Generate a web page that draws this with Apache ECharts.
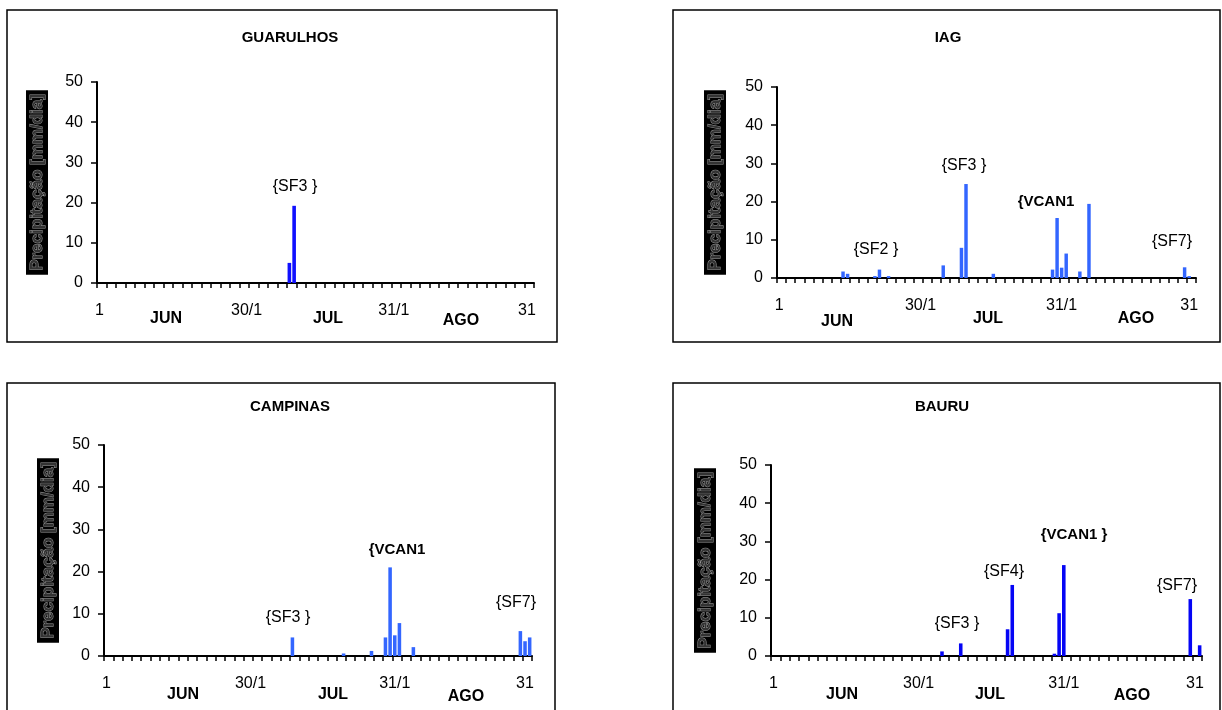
<!DOCTYPE html>
<html>
<head>
<meta charset="utf-8">
<script src="https://cdn.jsdelivr.net/npm/echarts@6/dist/echarts.min.js"></script>
<style>
html,body{margin:0;padding:0;background:#fff;}
#chart{width:1222px;height:710px;}
</style>
</head>
<body>
<div id="chart"></div>
<script>
// ---- categories: days of June (30), July (31), August (31)
const junDays = [1,2,3,4,5,6,7,8,9,10,11,12,13,14,15,16,17,18,19,20,21,22,23,24,25,26,27,28,29,30];
const julDays = [1,2,3,4,5,6,7,8,9,10,11,12,13,14,15,16,17,18,19,20,21,22,23,24,25,26,27,28,29,30,31];
const agoDays = [1,2,3,4,5,6,7,8,9,10,11,12,13,14,15,16,17,18,19,20,21,22,23,24,25,26,27,28,29,30,31];
const categories = [].concat(
  junDays.map(d => d + '/06'), julDays.map(d => d + '/07'), agoDays.map(d => d + '/08'));

// ---- tick labels
const dayTickIndex = [0, 31, 62, 90];
const dayTickText = ['1', '30/1', '31/1', '31'];
const monthLabels = ['JUN', 'JUL', 'AGO'];
const yTicks = [0, 10, 20, 30, 40, 50];
const yName = 'Precipitação [mm/dia]';
const titles = ['GUARULHOS', 'IAG', 'CAMPINAS', 'BAURU'];

// ---- daily precipitation (mm/dia), JUN (30) | JUL (31) | AGO (31)
const guarulhos = [
  0,0,0,0,0,0,0,0,0,0, 0,0,0,0,0,0,0,0,0,0, 0,0,0,0,0,0,0,0,0,0,
  0,0,0,0,0,0,0,0,0,0, 5,19.2,0,0,0,0,0,0,0,0, 0,0,0,0,0,0,0,0,0,0, 0,
  0,0,0,0,0,0,0,0,0,0, 0,0,0,0,0,0,0,0,0,0, 0,0,0,0,0,0,0,0,0,0, 0
];
const iag = [
  0,0,0,0,0,0,0,0,0,0, 0,0,0,0,1.7,1.1,0,0,0,0, 0,0.5,2.2,0,0.5,0,0,0,0,0,
  0,0,0,0,0,0,3.3,0,0,0, 7.9,24.6,0,0,0,0,0,1.1,0,0, 0,0,0,0,0,0,0,0,0,0, 2.2,
  15.7,2.7,6.4,0,0,1.7,0,19.4,0,0, 0,0,0,0,0,0,0,0,0,0, 0,0,0,0,0,0,0,0,2.8,0.5, 0
];
const campinas = [
  0,0,0,0,0,0,0,0,0,0, 0,0,0,0,0,0,0,0,0,0, 0,0,0,0,0,0,0,0,0,0,
  0,0,0,0,0,0,0,0,0,0, 4.4,0,0,0,0,0,0,0,0,0, 0,0.6,0,0,0,0,0,1.2,0,0, 4.4,
  21.0,4.9,7.8,0,0,2.1,0,0,0,0, 0,0,0,0,0,0,0,0,0,0, 0,0,0,0,0,0,0,0,5.9,3.5, 4.4
];
const bauru = [
  0,0,0,0,0,0,0,0,0,0, 0,0,0,0,0,0,0,0,0,0, 0,0,0,0,0,0,0,0,0,0,
  0,0,0,0,0,0,1.2,0,0,0, 3.3,0,0,0,0,0,0,0,0,0, 7.0,18.6,0,0,0,0,0,0,0,0, 0.6,
  11.2,23.8,0,0,0,0,0,0,0,0, 0,0,0,0,0,0,0,0,0,0, 0,0,0,0,0,0,0,0,14.9,0, 2.8
];
const stationValues = [guarulhos, iag, campinas, bauru];

// ---- layout (pixels)
const FONT = '"Liberation Sans", Arial, sans-serif';
const grids = [
  {left: 97,  top: 82,  width: 437, height: 201},
  {left: 777, top: 87,  width: 419, height: 191},
  {left: 104, top: 445, width: 428, height: 211},
  {left: 771, top: 465, width: 431, height: 191}
];
const boxes = [
  {x: 7,   y: 10,  width: 550, height: 332},
  {x: 673, y: 10,  width: 547, height: 332},
  {x: 7,   y: 383, width: 548, height: 400},
  {x: 673, y: 383, width: 547, height: 400}
];
const titlePos = [[290, 38], [948, 38], [290, 407], [942, 407]];
const nameGaps = [49, 51, 45, 55];
const barColors = ['#1010ff', '#3366ff', '#3366ff', '#0505f5'];
const monthPos = [
  [[166, 319], [328, 319], [461, 321]],
  [[837, 322], [988, 319], [1136, 319]],
  [[183, 695], [333, 695], [466, 697]],
  [[842, 695], [990, 695], [1132, 696]]
];
const notes = [
  [['{SF3 }', 295, 187, false]],
  [['{SF2 }', 876, 250, false], ['{SF3 }', 964, 166, false], ['{VCAN1', 1046, 202, true], ['{SF7}', 1172, 242, false]],
  [['{SF3 }', 288, 618, false], ['{VCAN1', 397, 550, true], ['{SF7}', 516, 603, false]],
  [['{SF3 }', 957, 624, false], ['{SF4}', 1004, 572, false], ['{VCAN1 }', 1074, 535, true], ['{SF7}', 1177, 586, false]]
];

const graphic = [];
boxes.forEach(b => graphic.push({
  type: 'rect', shape: b, silent: true,
  style: {fill: 'none', stroke: '#000', lineWidth: 1.5}
}));
titles.forEach((t, i) => graphic.push({
  type: 'text', silent: true,
  style: {text: t, x: titlePos[i][0], y: titlePos[i][1], align: 'center', verticalAlign: 'middle',
          fontFamily: FONT, fontSize: 15, fontWeight: 'bold', fill: '#000'}
}));
monthPos.forEach(p => p.forEach((pos, j) => graphic.push({
  type: 'text', silent: true,
  style: {text: monthLabels[j], x: pos[0], y: pos[1], align: 'center', verticalAlign: 'middle',
          fontFamily: FONT, fontSize: 16, fontWeight: 'bold', fill: '#000'}
})));
notes.forEach(list => list.forEach(n => graphic.push({
  type: 'text', silent: true,
  style: {text: n[0], x: n[1], y: n[2], align: 'center', verticalAlign: 'middle',
          fontFamily: FONT, fontSize: n[3] ? 15 : 16, fontWeight: n[3] ? 'bold' : 'normal', fill: '#000'}
})));

const option = {
  animation: false,
  backgroundColor: '#fff',
  graphic: graphic,
  grid: grids.map(g => Object.assign({containLabel: false}, g)),
  xAxis: grids.map((g, i) => ({
    type: 'category', gridIndex: i, data: categories, boundaryGap: true,
    axisLine: {show: true, lineStyle: {color: '#000', width: 2}},
    axisTick: {show: true, interval: 1, length: 5, lineStyle: {color: '#000', width: 1.5}},
    axisLabel: {
      show: true, margin: 20, color: '#000', fontFamily: FONT, fontSize: 16,
      interval: (idx) => dayTickIndex.indexOf(idx) >= 0,
      formatter: (v, idx) => { const k = dayTickIndex.indexOf(idx); return k >= 0 ? dayTickText[k] : ''; }
    },
    splitLine: {show: false}
  })),
  yAxis: grids.map((g, i) => ({
    type: 'value', gridIndex: i, min: yTicks[0], max: yTicks[yTicks.length - 1], interval: 10,
    axisLine: {show: true, lineStyle: {color: '#000', width: 2}},
    axisTick: {show: true, length: 6, lineStyle: {color: '#000', width: 1.5}},
    axisLabel: {margin: 14, color: '#000', fontFamily: FONT, fontSize: 16},
    splitLine: {show: false},
    name: yName, nameLocation: 'middle', nameRotate: 90, nameGap: nameGaps[i],
    nameTextStyle: {
      fontFamily: FONT, fontSize: 17, fontWeight: 'bold', color: '#333',
      textBorderColor: '#9a9a9a', textBorderWidth: 1, lineHeight: 19,
      backgroundColor: '#000', padding: [2, 4, 1, 4]
    }
  })),
  series: stationValues.map((vals, i) => ({
    type: 'bar', name: titles[i], xAxisIndex: i, yAxisIndex: i, data: vals,
    barWidth: '76%', itemStyle: {color: barColors[i]}, silent: true
  }))
};

const chart = echarts.init(document.getElementById('chart'), null, {renderer: 'canvas'});
chart.setOption(option);
</script>
</body>
</html>
